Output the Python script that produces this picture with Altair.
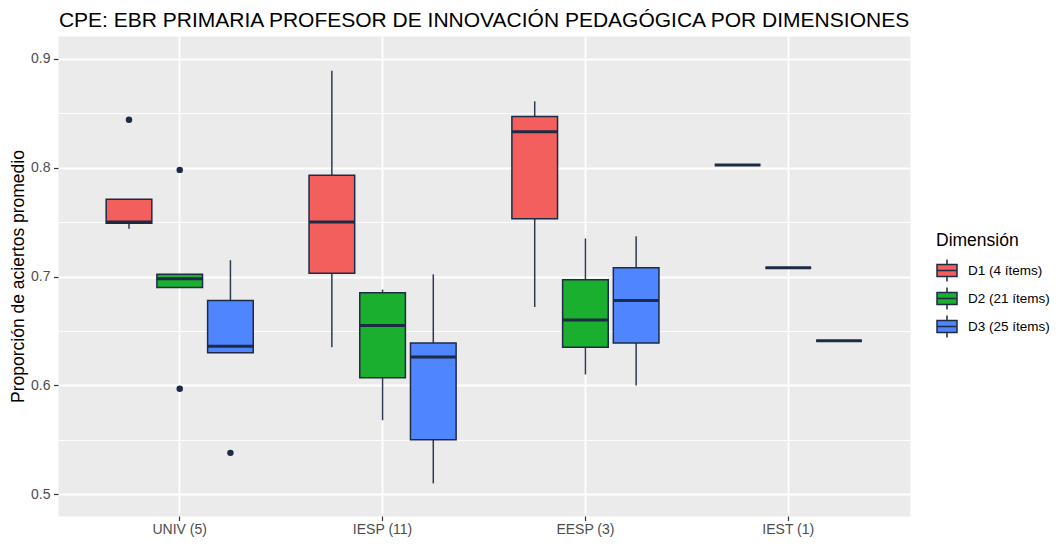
import altair as alt
import pandas as pd

groups = ["UNIV (5)", "IESP (11)", "EESP (3)", "IEST (1)"]
dims = ["D1 (4 ítems)", "D2 (21 ítems)", "D3 (25 ítems)"]
colors = ["#F25F5C", "#1AAF2E", "#4F86FF"]

# Box statistics, group-major order (UNIV D1, D2, D3, IESP D1, ...)
row_group = ["UNIV (5)"] * 3 + ["IESP (11)"] * 3 + ["EESP (3)"] * 3 + ["IEST (1)"] * 3
row_dim = dims * 4
lower  = [0.744, 0.690, 0.630, 0.635, 0.568, 0.510, 0.672, 0.610, 0.600, 0.8025, 0.708, 0.641]
q1     = [0.749, 0.690, 0.630, 0.703, 0.607, 0.550, 0.753, 0.635, 0.639, 0.8025, 0.708, 0.641]
median = [0.750, 0.698, 0.636, 0.750, 0.655, 0.626, 0.833, 0.660, 0.678, 0.8025, 0.708, 0.641]
q3     = [0.771, 0.702, 0.678, 0.793, 0.685, 0.639, 0.847, 0.697, 0.708, 0.8025, 0.708, 0.641]
upper  = [0.771, 0.702, 0.715, 0.889, 0.688, 0.702, 0.861, 0.735, 0.737, 0.8025, 0.708, 0.641]

out_group = ["UNIV (5)", "UNIV (5)", "UNIV (5)", "UNIV (5)"]
out_dim = ["D1 (4 ítems)", "D2 (21 ítems)", "D2 (21 ítems)", "D3 (25 ítems)"]
out_value = [0.844, 0.798, 0.597, 0.538]

y_ticks = [0.5, 0.55, 0.6, 0.65, 0.7, 0.75, 0.8, 0.85, 0.9]

df = pd.DataFrame({"group": row_group, "dim": row_dim, "lower": lower, "q1": q1,
                   "median": median, "q3": q3, "upper": upper})
df_out = pd.DataFrame({"group": out_group, "dim": out_dim, "value": out_value})

FONT = "Liberation Sans"
DARK = "#1E2B45"
major_test = "round(datum.value*100) % 10 == 0"

x_enc = alt.X("group:N", sort=groups,
              scale=alt.Scale(paddingInner=0.25, paddingOuter=0.225),
              axis=alt.Axis(title=None, bandPosition=0.5, labelAngle=0, labelFontSize=14,
                            labelColor="#4D4D4D", labelFont=FONT, tickColor="#333333",
                            tickSize=4.5, tickWidth=1.2, labelPadding=2, domain=False,
                            grid=True, gridColor="white", gridWidth=1.8))
xo_enc = alt.XOffset("dim:N", sort=dims, scale=alt.Scale(paddingInner=0.1, paddingOuter=0.05))

y_scale = alt.Scale(domain=[0.48, 0.921], nice=False, zero=False)
y_axis = alt.Axis(title="Proporción de aciertos promedio", values=y_ticks,
                  labelExpr=f"{major_test} ? format(datum.value, '.1f') : ''",
                  labelFontSize=14, labelColor="#4D4D4D", labelFont=FONT,
                  titleFontSize=17.5, titleFont=FONT, titleFontWeight="normal", titleColor="black",
                  titlePadding=3, tickSize=4.5, labelPadding=3.5, domain=False,
                  tickColor={"condition": {"test": major_test, "value": "#333333"}, "value": "transparent"},
                  tickWidth=1.2, grid=True,
                  gridColor="white",
                  gridWidth={"condition": {"test": major_test, "value": 1.8}, "value": 0.9})

base = alt.Chart(df).encode(x=x_enc, xOffset=xo_enc)

whisk = base.mark_rule(color="#2E3A50", strokeWidth=1.5).encode(
    y=alt.Y("lower:Q", scale=y_scale, axis=y_axis), y2="upper:Q")

box = base.mark_bar(stroke=DARK, strokeWidth=1.5).encode(
    y=alt.Y("q1:Q", scale=y_scale, axis=y_axis), y2="q3:Q",
    fill=alt.Fill("dim:N", sort=dims, scale=alt.Scale(domain=dims, range=colors),
                  legend=alt.Legend(title="Dimensión", orient="none", legendX=878, legendY=196,
                                    titleFontSize=17.5, titleFont=FONT, titleFontWeight="normal",
                                    titleColor="black", labelFontSize=13.5, labelFont=FONT,
                                    labelColor="black",
                                    symbolType="M-1,-0.6L1,-0.6L1,0.6L-1,0.6Z M-1,0L1,0 M0,-0.6L0,-1.1 M0,0.6L0,1.1",
                                    symbolSize=400, symbolStrokeColor=DARK, symbolStrokeWidth=1.5,
                                    symbolOpacity=1, rowPadding=0, titlePadding=10, labelOffset=10)))

med = base.mark_bar(stroke=DARK, strokeWidth=3, fill=DARK).encode(
    y=alt.Y("median:Q", scale=y_scale, axis=y_axis), y2="median:Q")

outl = alt.Chart(df_out).mark_circle(size=42, color=DARK, opacity=1).encode(
    x=x_enc, xOffset=xo_enc, y=alt.Y("value:Q", scale=y_scale, axis=y_axis))

chart = alt.layer(whisk, box, med, outl).properties(
    width=852, height=480,
    title=alt.TitleParams("CPE: EBR PRIMARIA PROFESOR DE INNOVACIÓN PEDAGÓGICA POR DIMENSIONES",
                          anchor="middle", fontSize=21, font=FONT, fontWeight="normal",
                          color="black", offset=5),
    autosize=alt.AutoSizeParams(type="none"),
    padding={"left": 50, "top": 28, "right": 143, "bottom": 22},
).configure(font=FONT, background="white").configure_view(fill="#EBEBEB", stroke="transparent")

chart.save("out.html", embed_options={"renderer": "svg", "actions": False})
